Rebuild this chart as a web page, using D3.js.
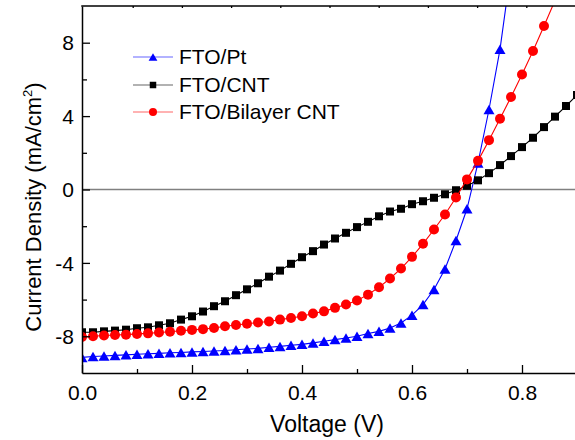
<!DOCTYPE html>
<html>
<head>
<meta charset="utf-8">
<script src="https://cdn.jsdelivr.net/npm/d3@7/dist/d3.min.js"></script>
<style>
  html, body { margin: 0; padding: 0; background: #fff; }
  svg { display: block; }
  text { font-family: "Liberation Sans", Arial, Helvetica, sans-serif; fill: #000; }
</style>
</head>
<body>
<svg id="chart" width="575" height="440"></svg>
<script>
// ---- data ----
const voltage = d3.range(0, 46).map(i => +(i * 0.02).toFixed(2)); // 0.00 .. 0.90

const ptValues = [
  -9.15, -9.10, -9.07, -9.04, -9.01, -8.98, -8.95, -8.93, -8.90, -8.88,
  -8.85, -8.83, -8.80, -8.77, -8.73, -8.69, -8.66, -8.60, -8.55, -8.49,
  -8.44, -8.36, -8.27, -8.18, -8.09, -8.00, -7.85, -7.73, -7.55, -7.27,
  -6.85, -6.27, -5.45, -4.33, -2.78, -1.05, 1.45, 4.36, 7.64, 12.0
];
const cntValues = [
  -7.78, -7.78, -7.73, -7.69, -7.64, -7.56, -7.51, -7.40, -7.29, -7.09,
  -6.91, -6.65, -6.36, -6.09, -5.76, -5.44, -5.11, -4.75, -4.42, -4.05,
  -3.69, -3.36, -3.00, -2.67, -2.36, -2.05, -1.76, -1.46, -1.20, -1.05,
  -0.80, -0.64, -0.45, -0.26, -0.04, 0.20, 0.50, 0.89, 1.33, 1.82,
  2.31, 2.82, 3.40, 3.97, 4.55, 5.15
];
const bilayerValues = [
  -8.04, -8.00, -7.96, -7.93, -7.91, -7.87, -7.84, -7.79, -7.75, -7.70,
  -7.65, -7.61, -7.55, -7.45, -7.38, -7.32, -7.25, -7.19, -7.09, -7.00,
  -6.91, -6.76, -6.64, -6.45, -6.27, -6.05, -5.73, -5.33, -4.85, -4.31,
  -3.67, -2.96, -2.18, -1.36, -0.44, 0.55, 1.56, 2.69, 3.86, 5.04,
  6.27, 7.55, 8.91, 10.3
];
const seriesNames = ["FTO/Pt", "FTO/CNT", "FTO/Bilayer CNT"];
const seriesColors = ["#0000ff", "#000000", "#ff0000"];
const seriesMarkers = ["triangle", "square", "circle"];
const xTicks = [0.0, 0.2, 0.4, 0.6, 0.8];
const xMinorTicks = [0.1, 0.3, 0.5, 0.7, 0.9];
const yTicks = [-8, -4, 0, 4, 8];
const yMinorTicks = [-6, -2, 2, 6];

// ---- layout ----
const svg = d3.select("#chart");
const L = 82, R = 577, T = 6, B = 373;
const x = d3.scaleLinear().domain([0, 0.9]).range([L, R]);
const y = d3.scaleLinear().domain([-10, 10]).range([B, T]);

svg.append("rect").attr("width", 575).attr("height", 440).attr("fill", "#fff");

svg.append("defs").append("clipPath").attr("id", "plotclip")
  .append("rect").attr("x", L).attr("y", T).attr("width", R - L).attr("height", B - T);

// zero line
svg.append("line")
  .attr("x1", L).attr("x2", R).attr("y1", y(0)).attr("y2", y(0))
  .attr("stroke", "#808080").attr("stroke-width", 1.5);

function markerPath(type, s) {
  if (type === "square") {
    const h = s / 2;
    return `M${-h},${-h}H${h}V${h}H${-h}Z`;
  }
  if (type === "circle") {
    const r = s / 2;
    return `M${r},0A${r},${r} 0 1,1 ${-r},0A${r},${r} 0 1,1 ${r},0Z`;
  }
  // triangle, apex up, bbox centered
  const w = s * 1.1 / 2, h = s * 0.95 / 2;
  return `M0,${-h}L${w},${h}L${-w},${h}Z`;
}
const markerSize = { triangle: 10, square: 8, circle: 10 };

const allSeries = [ptValues, cntValues, bilayerValues];
const plot = svg.append("g").attr("clip-path", "url(#plotclip)");
const line = d3.line().x(d => x(d[0])).y(d => y(d[1]));

allSeries.forEach((vals, i) => {
  const pts = vals.map((v, k) => [voltage[k], v]);
  const g = plot.append("g");
  g.append("path").datum(pts)
    .attr("d", line).attr("fill", "none")
    .attr("stroke", seriesColors[i]).attr("stroke-width", 1.1);
  g.selectAll("path.m").data(pts).enter().append("path")
    .attr("class", "m")
    .attr("transform", d => `translate(${x(d[0])},${y(d[1])})`)
    .attr("d", markerPath(seriesMarkers[i], markerSize[seriesMarkers[i]]))
    .attr("fill", seriesColors[i]);
});

// ---- axes ----
const fontSize = 21;
const xAxis = svg.append("g").attr("transform", `translate(0,${B})`)
  .call(d3.axisBottom(x).tickValues(xTicks).tickFormat(d3.format(".1f"))
    .tickSizeInner(-8).tickSizeOuter(0).tickPadding(12));
svg.append("g").attr("transform", `translate(0,${B})`)
  .call(d3.axisBottom(x).tickValues(xMinorTicks).tickFormat("")
    .tickSizeInner(-4).tickSizeOuter(0))
  .select(".domain").remove();

const yAxis = svg.append("g").attr("transform", `translate(${L},0)`)
  .call(d3.axisLeft(y).tickValues(yTicks).tickFormat(d => String(d))
    .tickSizeInner(-8).tickSizeOuter(0).tickPadding(8));
svg.append("g").attr("transform", `translate(${L},0)`)
  .call(d3.axisLeft(y).tickValues(yMinorTicks).tickFormat("")
    .tickSizeInner(-5).tickSizeOuter(0))
  .select(".domain").remove();

// top frame line with small ticks
const xTop = d3.scaleLinear().domain([0, 1]).range([83.5, 575.5]);
svg.append("g").attr("transform", `translate(0,${T})`)
  .call(d3.axisTop(xTop).tickValues(d3.range(1, 10).map(v => v / 10)).tickFormat("")
    .tickSizeInner(-2).tickSizeOuter(0))
  .select(".domain").remove();
svg.append("line").attr("x1", L - 0.75).attr("x2", 575).attr("y1", T).attr("y2", T)
  .attr("stroke", "#000").attr("stroke-width", 1.5);

svg.selectAll(".domain").attr("stroke", "#000").attr("stroke-width", 1.5);
svg.selectAll(".tick line").attr("stroke", "#000").attr("stroke-width", 1.3);
svg.selectAll(".tick text")
  .style("font-family", '"Liberation Sans", Arial, sans-serif')
  .style("font-size", fontSize + "px").attr("fill", "#000");
yAxis.selectAll(".tick text").attr("dy", "0.34em");

// axis titles
svg.append("text").attr("x", 327).attr("y", 432)
  .attr("text-anchor", "middle").style("font-size", "23px").text("Voltage (V)");

const yt = svg.append("text")
  .attr("transform", "translate(41,207) rotate(-90)")
  .attr("text-anchor", "middle").style("font-size", "22px");
yt.append("tspan").text("Current Density (mA/cm");
yt.append("tspan").attr("dy", -9).style("font-size", "13px").text("2");
yt.append("tspan").attr("dy", 9).text(")");

// legend
const legendRows = [57, 85, 112];
seriesNames.forEach((name, i) => {
  const g = svg.append("g").attr("transform", `translate(0,${legendRows[i]})`);
  g.append("line").attr("x1", 133).attr("x2", 173).attr("y1", 0).attr("y2", 0)
    .attr("stroke", seriesColors[i]).attr("stroke-width", 1.2).attr("stroke-opacity", 0.6);
  g.append("path").attr("transform", "translate(153,0)")
    .attr("d", markerPath(seriesMarkers[i], seriesMarkers[i] === "square" ? 6.5 : 8))
    .attr("fill", seriesColors[i]);
  g.append("text").attr("x", 179).attr("y", 0).attr("dy", "0.35em")
    .style("font-size", "21px").text(name);
});
</script>
</body>
</html>
